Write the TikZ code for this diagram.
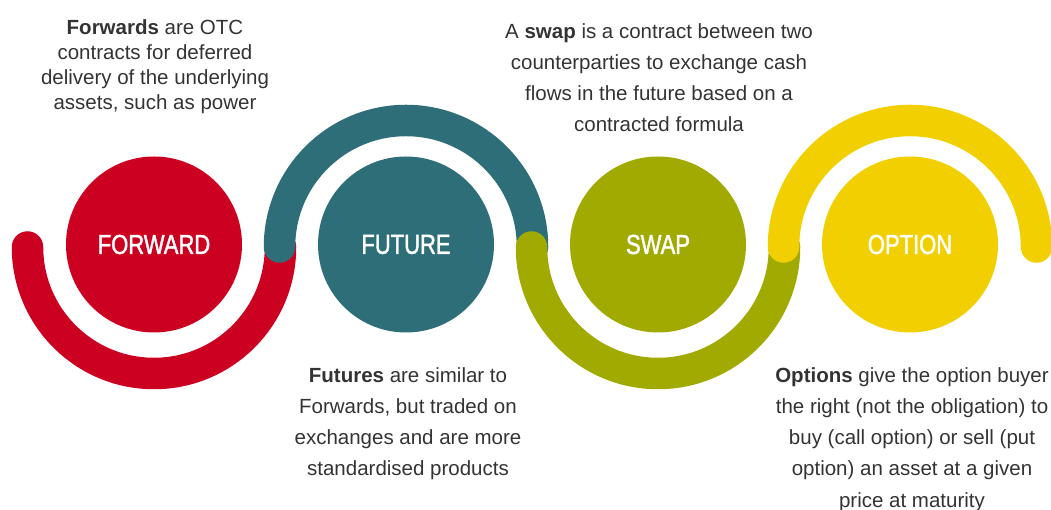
\documentclass[tikz,border=0pt]{standalone}
\usepackage{fontspec}
\setmainfont{Liberation Sans}
\newfontfamily\labelfont[FakeStretch=0.8,FakeBold=1.5]{Liberation Sans}
\definecolor{cred}{HTML}{CC0020}
\definecolor{cteal}{HTML}{2E6E78}
\definecolor{cgreen}{HTML}{A0AA00}
\definecolor{cyellow}{HTML}{F2CF00}
\definecolor{ctext}{HTML}{333333}
\begin{document}
\begin{tikzpicture}[x=1pt,y=1pt,
  disc/.style={circle,inner sep=0pt,minimum size=176pt,text=white,
    font=\labelfont\fontsize{27.5}{30}\selectfont},
  band/.style={line width=31.5pt,line cap=round},
  desc/.style={align=center,inner sep=0pt,anchor=north,text=ctext},
  tight/.style={font=\fontsize{20.5}{25.3}\selectfont},
  loose/.style={font=\fontsize{20.5}{31.3}\selectfont}]
\useasboundingbox (0,0) rectangle (1051,510);
% discs
\node[disc,fill=cred]    (fwd) at (154,265.5) {FORWARD};
\node[disc,fill=cteal]   (fut) at (406,265.5) {FUTURE};
\node[disc,fill=cgreen]  (swp) at (658,265.5) {SWAP};
\node[disc,fill=cyellow] (opt) at (910,265.5) {OPTION};
% bands
\draw[band,cred]    ([xshift=-126.5pt,yshift=-2.5pt]fwd.center) arc[start angle=180,end angle=360,radius=126.5pt];
\draw[band,cteal]   ([xshift=-126.5pt,yshift=-2.5pt]fut.center) arc[start angle=180,end angle=0,radius=126.5pt];
\draw[band,cgreen]  ([xshift=-126.5pt,yshift=-2.5pt]swp.center) arc[start angle=180,end angle=360,radius=126.5pt];
\draw[band,cyellow] ([xshift=-126.5pt,yshift=-2.5pt]opt.center) arc[start angle=180,end angle=0,radius=126.5pt];
% descriptions
\node[desc,tight] (tfwd) at (155,491) {\textbf{Forwards} are OTC\\contracts for deferred\\delivery of the underlying\\assets, such as power};
\node[desc,loose] (tswp) at (659,487) {A \textbf{swap} is a contract between two\\counterparties to exchange cash\\flows in the future based on a\\contracted formula};
\node[desc,loose] (tfut) at (408,143) {\textbf{Futures} are similar to\\Forwards, but traded on\\exchanges and are more\\standardised products};
\node[desc,loose] (topt) at (912,143) {\textbf{Options} give the option buyer\\the right (not the obligation) to\\buy (call option) or sell (put\\option) an asset at a given\\price at maturity};
\end{tikzpicture}
\end{document}
